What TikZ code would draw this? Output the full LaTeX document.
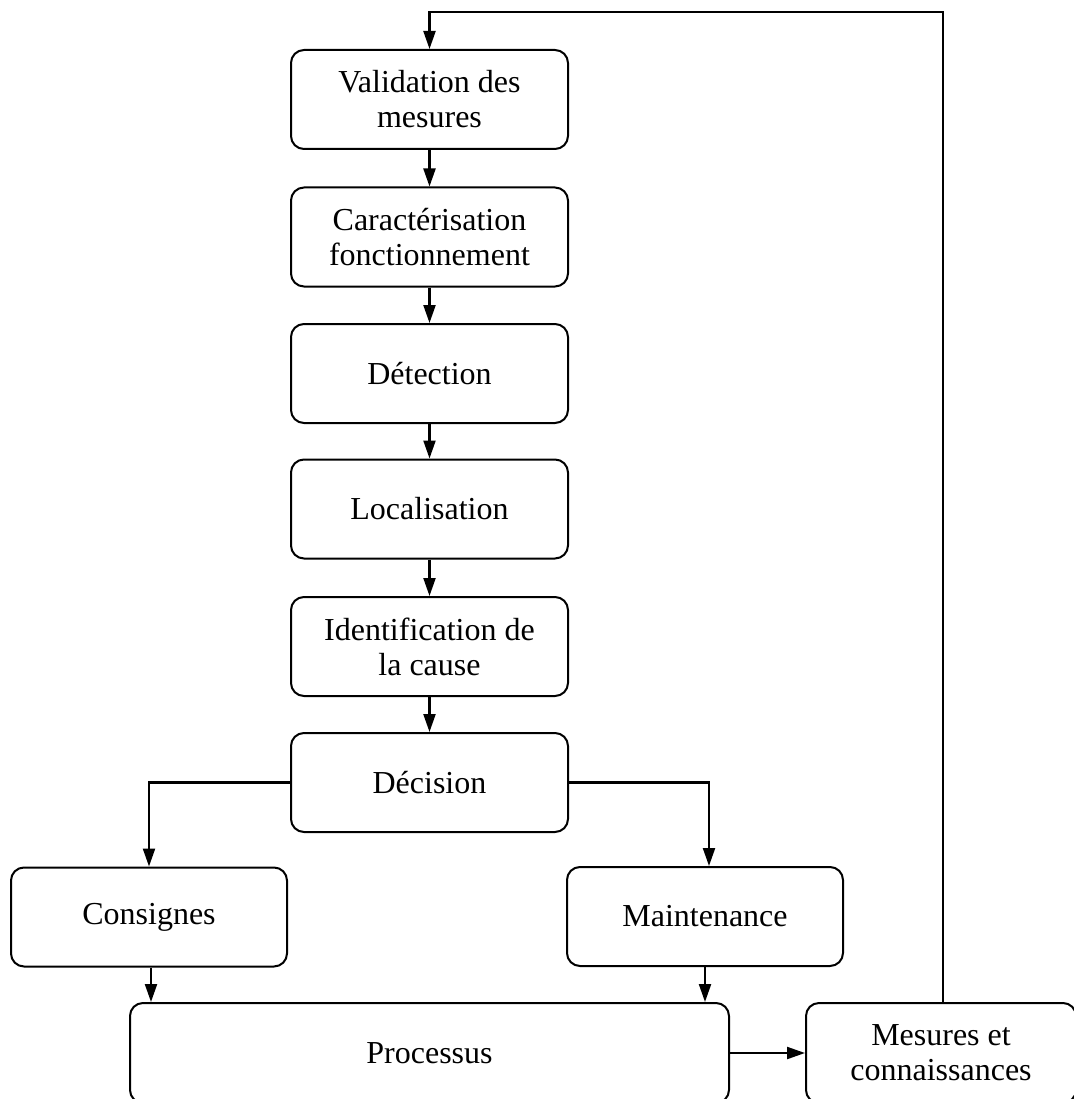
\documentclass[tikz,border=0pt]{standalone}
\usepackage{fontspec}
\setmainfont{Liberation Serif}
\usetikzlibrary{arrows.meta}
\begin{document}
\begin{tikzpicture}[x=1pt,y=-1pt,
  box/.style={draw=black, line width=2pt, rounded corners=13pt, align=center,
    font=\fontsize{32}{35}\selectfont, inner sep=0pt},
  colbox/.style={box, minimum width=277pt, minimum height=99pt},
  arr/.style={line width=2.2pt, -{Triangle[length=18pt,width=12pt]}}]
\useasboundingbox[fill=white] (0,0) rectangle (1073,1099);
\node[colbox] (V)  at (429.5,99.5) {Validation des\\mesures};
\node[colbox] (C)  at (429.5,237)  {Caractérisation\\fonctionnement};
\node[colbox] (D)  at (429.5,373.5){Détection};
\node[colbox] (L)  at (429.5,509)  {Localisation};
\node[colbox] (I)  at (429.5,646.5){Identification de\\la cause};
\node[colbox] (De) at (429.5,782.5){Décision};
\node[box, minimum width=276pt, minimum height=99pt] (Co) at (149,917) {Consignes};
\node[box, minimum width=276pt, minimum height=99pt] (M)  at (705,916.5) {Maintenance};
\node[box, minimum width=599pt, minimum height=100pt] (P)  at (429.5,1053) {Processus};
\node[box, minimum width=270pt, minimum height=100pt] (Me) at (941,1053) {Mesures et\\connaissances};
\coordinate (top) at (0,12);
\draw[arr] (V) -- (C);
\draw[arr] (C) -- (D);
\draw[arr] (D) -- (L);
\draw[arr] (L) -- (I);
\draw[arr] (I) -- (De);
\draw[arr] (De.west) -| (Co.north);
\draw[arr] (De.east) -| ([xshift=4pt]M.north);
\draw[arr] ([xshift=2pt]Co.south) -- ([xshift=2pt]Co.south |- P.north);
\draw[arr] (M.south) -- (M.south |- P.north);
\draw[arr] (P.east) -- (Me.west);
\draw[arr] ([xshift=2pt]Me.north) -- ([xshift=2pt]Me.north |- top) -| (V.north);
\end{tikzpicture}
\end{document}
